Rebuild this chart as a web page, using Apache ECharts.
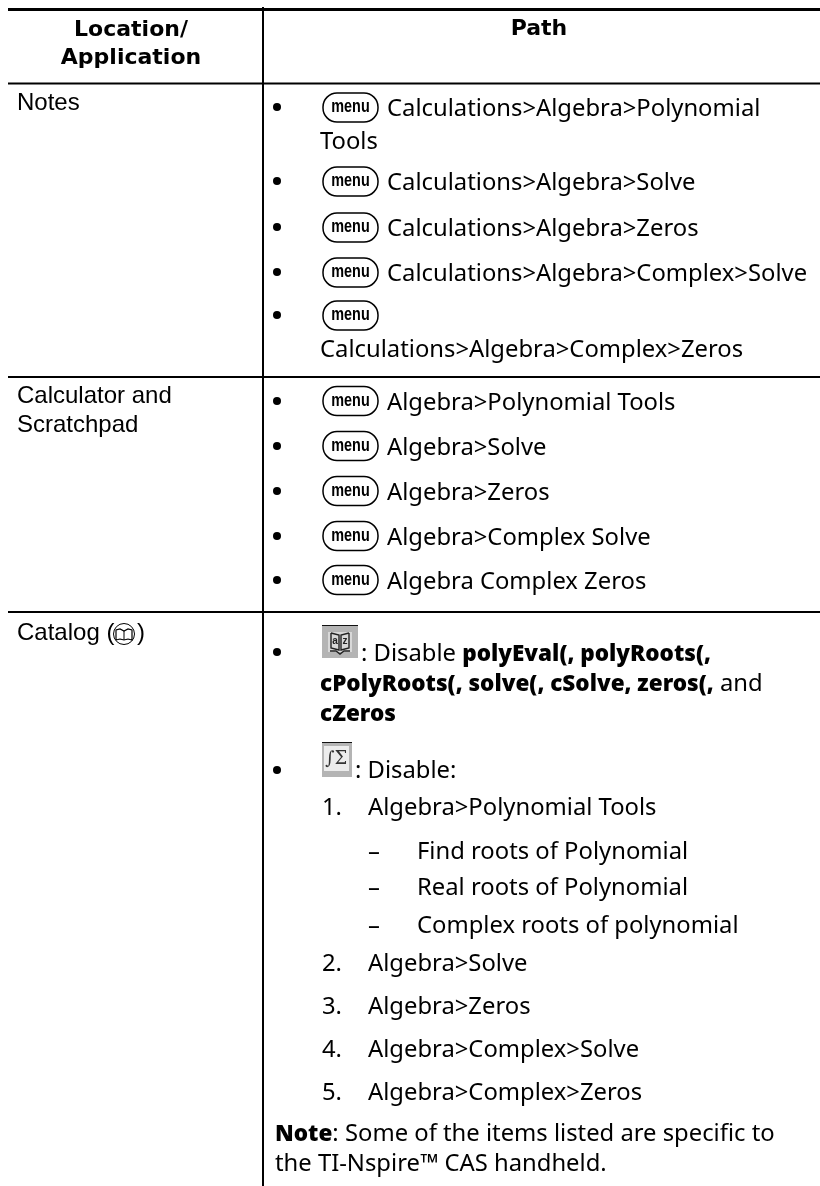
<!DOCTYPE html>
<html>
<head>
<meta charset="utf-8">
<title>Location / Path</title>
<style>
  html, body { margin: 0; padding: 0; background: #fff; }
  #chart { width: 820px; height: 1186px; }
</style>
<script src="https://cdn.jsdelivr.net/npm/echarts@6/dist/echarts.min.js"></script>
</head>
<body>
<div id="chart"></div>
<script>
/* ── Table text ─────────────────────────────────────────── */
const headerLocation = ['Location/', 'Application'];
const headerPath = 'Path';
const notesLabel = 'Notes';
const calcLabel = ['Calculator and', 'Scratchpad'];
const catalogLabel = ['Catalog (', ')'];

const notesPaths = [
  'Calculations>Algebra>Polynomial', 'Tools',
  'Calculations>Algebra>Solve',
  'Calculations>Algebra>Zeros',
  'Calculations>Algebra>Complex>Solve',
  '', 'Calculations>Algebra>Complex>Zeros'
];
const calcPaths = [
  'Algebra>Polynomial Tools', 'Algebra>Solve', 'Algebra>Zeros',
  'Algebra>Complex Solve', 'Algebra Complex Zeros'
];
const catalogRich = [
  ': Disable {b|polyEval(, polyRoots(,}',
  '{b|cPolyRoots(, solve(, cSolve, zeros(,} and',
  '{b|cZeros}'
];
const disableLabel = ': Disable:';
const numberLabels = ['1.', '2.', '3.', '4.', '5.'];
const numberPaths = [
  'Algebra>Polynomial Tools', 'Algebra>Solve', 'Algebra>Zeros',
  'Algebra>Complex>Solve', 'Algebra>Complex>Zeros'
];
const dashed = ['Find roots of Polynomial', 'Real roots of Polynomial', 'Complex roots of polynomial'];
const noteRich = ['{b|Note}: Some of the items listed are specific to', 'the TI-Nspire™ CAS handheld.'];

/* ── Layout, in page pixels ─────────────────────────────── */
const ruleY = [83.5, 377, 612];
const notesY = [109.5, 142.5, 183.5, 229.5, 274.5, 317.5, 350.5];
const notesX = [387, 320, 387, 387, 387, 387, 320];
const notesKey = [true, false, true, true, true, true, false];
const calcY = [403.5, 448.5, 493.5, 538.5, 582.5];
const catalogY = [654.5, 684.5, 714.5];
const disableY = 771.5;
const numberY = [808.5, 964.5, 1007.5, 1050.5, 1093.5];
const dashedY = [852.5, 888.5, 926.5];
const noteY = [1134.5, 1164.5];

const BODY = '"Noto Sans", sans-serif';
const ARIAL = '"Liberation Sans", sans-serif';
const HEAD = '"DejaVu Sans", sans-serif';
const BODY_FONT = `23.8px ${BODY}`;
const BOLD_FONT = `900 22.5px ${BODY}`;
const LABEL_FONT = `24px ${ARIAL}`;

/* ── Small drawing helpers ──────────────────────────────── */
function text(x, y, str, opt) {
  return {
    type: 'text', silent: true,
    style: Object.assign({ x, y, text: str, fill: '#000', font: BODY_FONT, verticalAlign: 'middle' }, opt || {})
  };
}
function rich(x, y, str) {
  return text(x, y, str, { rich: { b: { font: BOLD_FONT, fill: '#000' } } });
}
function rule(x1, y1, x2, y2, w) {
  return { type: 'line', silent: true, shape: { x1, y1, x2, y2 }, style: { stroke: '#000', lineWidth: w } };
}
function box(x, y, width, height, fill) {
  return { type: 'rect', silent: true, shape: { x, y, width, height }, style: { fill } };
}
function strokePoly(points, color, w) {
  return { type: 'polyline', silent: true, shape: { points }, style: { fill: 'none', stroke: color, lineWidth: w } };
}
function bullet(y) {
  return { type: 'circle', silent: true, shape: { cx: 277, cy: y, r: 4 }, style: { fill: '#000' } };
}
function menuKey(y) {
  return [
    { type: 'rect', silent: true, shape: { x: 323, y: y - 14.5, width: 55, height: 29, r: 14 },
      style: { fill: '#fff', stroke: '#000', lineWidth: 1.5 } },
    { type: 'text', silent: true, x: 350.5, y: y, scaleX: 0.8,
      style: { x: 0, y: 0, text: 'menu', fill: '#000', align: 'center', verticalAlign: 'middle',
        font: 'bold 18px "Liberation Sans", sans-serif' } }
  ];
}

const els = [];

/* ── Rules ──────────────────────────────────────────────── */
els.push(rule(8, 9.5, 820, 9.5, 3));
ruleY.forEach(y => els.push(rule(8, y, 820, y, 2)));
els.push(rule(263, 7, 263, 1186, 2));

/* ── Header and first column ────────────────────────────── */
const headFont = `bold 22px ${HEAD}`;
headerLocation.forEach((s, i) => els.push(text(131, [30, 58][i], s, { font: headFont, align: 'center' })));
els.push(text(539, 29, headerPath, { font: headFont, align: 'center' }));

els.push(text(17, 103, notesLabel, { font: LABEL_FONT }));
calcLabel.forEach((s, i) => els.push(text(17, [396, 425][i], s, { font: LABEL_FONT })));
els.push(text(17, 633, catalogLabel[0], { font: LABEL_FONT }));
els.push(text(137, 633, catalogLabel[1], { font: LABEL_FONT }));

// catalog key glyph
els.push({ type: 'circle', silent: true, shape: { cx: 124, cy: 634, r: 10.5 }, style: { fill: '#fff', stroke: '#000', lineWidth: 1 } });
els.push(strokePoly([[116, 640], [116, 630], [120, 629], [124, 631], [128, 629], [132, 630], [132, 640], [128, 639], [124, 640], [120, 639], [116, 640]], '#000', 1.2));
els.push(strokePoly([[124, 631], [124, 640]], '#000', 1));

/* ── Notes and calculator rows ──────────────────────────── */
notesPaths.forEach((s, i) => {
  if (notesKey[i]) { els.push(bullet(notesY[i] - 2.5)); els.push(...menuKey(notesY[i] - 2)); }
  if (s) els.push(text(notesX[i], notesY[i], s));
});
calcPaths.forEach((s, i) => {
  els.push(bullet(calcY[i] - 2.5));
  els.push(...menuKey(calcY[i] - 2.5));
  els.push(text(387, calcY[i], s));
});

/* ── Catalog row ────────────────────────────────────────── */
els.push(bullet(catalogY[0] - 2.5));
els.push(box(322, 625, 36, 33, '#b4b4b4'));
els.push(box(322, 625, 36, 1, '#111'));
els.push(box(328, 632, 24, 20, '#d8d8d8'));
els.push(strokePoly([[331, 633], [339, 635], [339, 650], [331, 648], [331, 633]], '#222', 1.4));
els.push(strokePoly([[349, 633], [341, 635], [341, 650], [349, 648], [349, 633]], '#222', 1.4));
els.push(strokePoly([[330, 651], [336, 651], [340, 654], [344, 651], [350, 651]], '#222', 1.4));
els.push(text(335, 641, 'a', { font: `bold 10px ${ARIAL}`, align: 'center', fill: '#222' }));
els.push(text(345, 641, 'z', { font: `bold 10px ${ARIAL}`, align: 'center', fill: '#222' }));
els.push(rich(361, catalogY[0], catalogRich[0]));
els.push(rich(320, catalogY[1], catalogRich[1]));
els.push(rich(320, catalogY[2], catalogRich[2]));

els.push(bullet(disableY - 1.5));
els.push(box(322, 742, 30, 35, '#b4b4b4'));
els.push(box(322, 742, 30, 1, '#111'));
els.push(box(324, 746, 25, 25, '#ececec'));
els.push(text(325, 759, '∫Σ', { font: `18px "DejaVu Serif", serif`, fill: '#333' }));
els.push(text(355, disableY, disableLabel));

numberLabels.forEach((s, i) => {
  els.push(text(322, numberY[i], s));
  els.push(text(368, numberY[i], numberPaths[i]));
});
dashed.forEach((s, i) => {
  els.push(text(368, dashedY[i], '–'));
  els.push(text(417, dashedY[i], s));
});
noteRich.forEach((s, i) => els.push(rich(275, noteY[i], s)));

const chart = echarts.init(document.getElementById('chart'), null, { renderer: 'canvas' });
chart.setOption({ animation: false, backgroundColor: '#fff', graphic: { elements: els } });
</script>
</body>
</html>
